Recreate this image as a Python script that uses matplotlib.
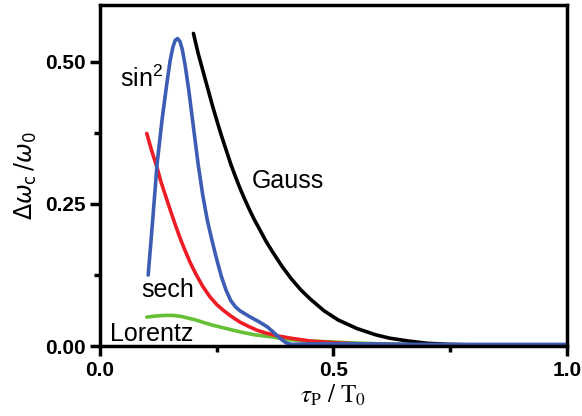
import numpy as np
import matplotlib.pyplot as plt
from matplotlib.ticker import MultipleLocator

# tau_P / T_0 and delta omega_c / omega_0
gauss_x = [0.20, 0.21, 0.22, 0.23, 0.24, 0.25, 0.26, 0.27, 0.28, 0.29, 0.30, 0.31, 0.32, 0.33, 0.34, 0.355, 0.37, 0.39, 0.41, 0.43, 0.45, 0.48, 0.51, 0.55, 0.59, 0.62, 0.66, 0.70, 0.75, 0.80, 0.90, 1.00]
gauss_y = [0.550, 0.515, 0.485, 0.455, 0.425, 0.397, 0.370, 0.345, 0.320, 0.298, 0.277, 0.258, 0.240, 0.223, 0.208, 0.185, 0.165, 0.140, 0.118, 0.099, 0.083, 0.062, 0.046, 0.031, 0.020, 0.014, 0.009, 0.005, 0.003, 0.002, 0.001, 0.0005]

sin2_x = [0.103, 0.113, 0.122, 0.133, 0.143, 0.150, 0.156, 0.161, 0.166, 0.171, 0.176, 0.182, 0.190, 0.200, 0.21, 0.22, 0.23, 0.24, 0.25, 0.26, 0.27, 0.28, 0.29, 0.30, 0.32, 0.34, 0.358, 0.372, 0.385, 0.398, 0.41, 0.45, 0.55, 0.70, 0.85, 1.00]
sin2_y = [0.125, 0.225, 0.320, 0.400, 0.462, 0.502, 0.526, 0.538, 0.541, 0.536, 0.522, 0.495, 0.450, 0.385, 0.320, 0.265, 0.220, 0.185, 0.152, 0.122, 0.098, 0.080, 0.069, 0.062, 0.052, 0.043, 0.034, 0.024, 0.014, 0.006, 0.003, 0.004, 0.004, 0.003, 0.003, 0.003]

sech_x = [0.10, 0.11, 0.122, 0.13, 0.14, 0.15, 0.16, 0.17, 0.18, 0.193, 0.205, 0.22, 0.235, 0.25, 0.264, 0.28, 0.30, 0.32, 0.336, 0.355, 0.38, 0.408, 0.45, 0.50, 0.55, 0.60, 0.70, 0.80, 1.00]
sech_y = [0.374, 0.345, 0.314, 0.290, 0.265, 0.240, 0.216, 0.193, 0.172, 0.147, 0.127, 0.105, 0.087, 0.073, 0.063, 0.053, 0.042, 0.034, 0.028, 0.023, 0.018, 0.014, 0.009, 0.006, 0.004, 0.003, 0.002, 0.001, 0.0005]

lor_x = [0.10, 0.12, 0.14, 0.157, 0.175, 0.19, 0.205, 0.22, 0.24, 0.26, 0.28, 0.30, 0.33, 0.37, 0.408, 0.44, 0.48, 0.53, 0.60, 0.70, 0.80, 1.00]
lor_y = [0.051, 0.053, 0.054, 0.054, 0.052, 0.049, 0.046, 0.042, 0.037, 0.033, 0.029, 0.025, 0.020, 0.016, 0.011, 0.009, 0.008, 0.006, 0.004, 0.002, 0.001, 0.0005]

fig = plt.figure(figsize=(5.82, 4.16), dpi=100)
ax = fig.add_axes([0.172, 0.168, 0.802, 0.820])

lw = 2.6
style = dict(lw=lw, solid_joinstyle='round', solid_capstyle='round')
ax.plot(lor_x, lor_y, color='#66c036', **style)
ax.plot(sech_x, sech_y, color='#ee1c25', **style)
ax.plot(gauss_x, gauss_y, color='black', **style)
ax.plot(sin2_x, sin2_y, color='#3d5cb4', **style)

ax.set_xlim(0, 1.0)
ax.set_ylim(0, 0.6)

ax.xaxis.set_major_locator(MultipleLocator(0.5))
ax.xaxis.set_minor_locator(MultipleLocator(0.25))
ax.yaxis.set_major_locator(MultipleLocator(0.25))
ax.yaxis.set_minor_locator(MultipleLocator(0.125))
ax.xaxis.set_major_formatter(plt.FuncFormatter(lambda v, p: f'{v:.1f}'))
ax.yaxis.set_major_formatter(plt.FuncFormatter(lambda v, p: f'{v:.2f}'))

for s in ax.spines.values():
    s.set_linewidth(2.5)
ax.tick_params(which='major', direction='out', length=7, width=2.5)
ax.tick_params(which='minor', direction='out', length=4, width=2.5)
for lab in ax.get_xticklabels() + ax.get_yticklabels():
    lab.set_fontfamily('Liberation Sans')
    lab.set_fontweight('bold')
    lab.set_fontsize(15)

ax.set_xlabel(r'$\tau_{\rm P}\ /\ \rm T_{0}$', fontsize=18, math_fontfamily='stix', labelpad=2)
ax.set_ylabel(r'$\Delta\omega_{\rm c}\,/\omega_{0}$', fontsize=17, labelpad=4)

tf = dict(fontfamily='Liberation Sans', fontsize=18)
ax.text(0.042, 0.47, r'sin$^{\mathregular{2}}$', va='center', **tf)
ax.text(0.325, 0.29, 'Gauss', va='center', **tf)
ax.text(0.088, 0.098, 'sech', va='center', **tf)
ax.text(0.022, 0.022, 'Lorentz', va='center', **tf)

fig.savefig('out.png', dpi=100)
